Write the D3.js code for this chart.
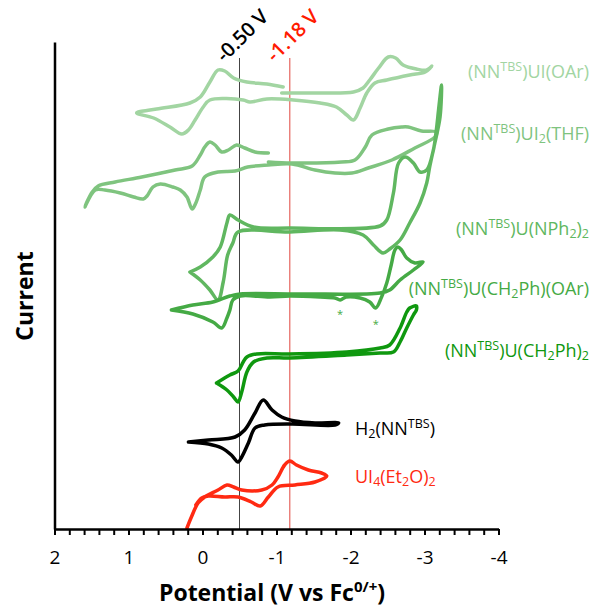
<!DOCTYPE html>
<html>
<head>
<meta charset="utf-8">
<script src="https://cdn.jsdelivr.net/npm/d3@7/dist/d3.min.js"></script>
<style>
  body { margin: 0; background: #fff; }
  text { font-family: "Open Sans", Lato, sans-serif; }
</style>
</head>
<body>
<div id="chart"></div>
<script>
// cyclic voltammograms, [potential (V vs Fc), current (a.u., stacked offset)]
var uiOAr = [[-1.07,43.6],[-1.54,43.6],[-2.04,43.7],[-2.17,44.1],[-2.26,44.9],[-2.38,46.1],[-2.51,47.2],[-2.61,47.1],
  [-2.71,46.4],[-2.89,46.0],[-3.03,45.9],[-3.10,46.3],[-3.01,45.7],[-2.80,45.4],[-2.49,44.9],[-2.33,44.6],[-2.22,43.6],
  [-2.13,42.1],[-2.04,40.9],[-1.95,41.4],[-1.81,42.2],[-1.59,42.6],[-1.23,42.9],[-0.87,43.0],[-0.64,42.7],[-0.55,42.9],
  [-0.10,42.9],[-0.01,42.2],[0.10,40.9],[0.19,39.9],[0.28,39.5],[0.44,40.2],[0.66,41.1],[0.89,41.6],[0.62,42.0],
  [0.17,42.6],[0.03,43.2],[-0.10,44.7],[-0.21,45.9],[-0.30,45.8],[-0.42,45.1],[-0.60,44.7],[-0.87,44.5],[-1.09,44.2]];

var ui2THF = [[-0.89,36.7],[-1.21,36.6],[-1.88,36.7],[-2.06,36.9],[-2.20,38.2],[-2.29,39.4],[-2.51,40.0],[-2.69,40.2],
  [-2.78,40.2],[-2.96,39.8],[-3.16,39.7],[-3.14,39.2],[-2.87,38.1],[-2.56,36.9],[-2.24,36.1],[-2.02,35.6],[-1.79,35.6],
  [-1.52,35.9],[-1.21,36.5],[-0.89,36.4],[-0.61,36.2],[-0.44,35.8],[-0.21,35.7],[-0.03,35.2],[0.03,33.9],[0.09,32.6],
  [0.14,32.0],[0.21,33.2],[0.30,33.9],[0.40,34.2],[0.57,34.5],[0.67,34.2],[0.75,33.3],[0.80,33.0],[0.93,33.2],
  [1.11,33.6],[1.32,33.9],[1.45,33.9],[1.59,32.2],[1.49,33.7],[1.41,34.3],[1.18,34.7],[0.82,35.2],[0.37,35.9],
  [0.14,36.3],[0.03,37.4],[-0.03,38.2],[-0.10,38.7],[-0.17,38.4],[-0.26,37.7],[-0.35,37.9],[-0.46,38.4],[-0.57,38.1],
  [-0.71,37.7],[-0.89,37.6]];

var uNPh2 = [[0.17,25.7],[0.03,26.2],[-0.14,27.2],[-0.24,28.2],[-0.33,30.6],[-0.37,31.4],[-0.48,30.9],[-0.69,30.2],
  [-1.18,30.1],[-2.40,30.3],[-2.49,30.9],[-2.58,33.6],[-2.65,36.6],[-2.74,37.2],[-2.85,36.6],[-2.94,35.7],[-3.03,35.9],
  [-3.12,37.9],[-3.16,39.9],[-3.19,41.9],[-3.23,44.4],[-3.21,41.2],[-3.14,38.6],[-3.07,36.2],[-3.03,34.6],[-2.94,32.6],
  [-2.80,30.6],[-2.67,28.9],[-2.53,28.0],[-2.44,27.6],[-2.31,28.4],[-2.17,29.4],[-1.86,29.9],[-1.18,29.7],[-0.48,29.7],
  [-0.41,28.6],[-0.34,27.4],[-0.28,24.7],[-0.21,22.9],[-0.10,23.9],[0.03,24.9],[0.17,25.7]];

var uBnOAr = [[0.42,21.9],[0.13,21.5],[-0.14,20.7],[-0.26,20.1],[-0.33,21.1],[-0.37,21.9],[-0.41,22.9],[-0.51,23.3],
  [-0.91,23.2],[-1.18,23.3],[-1.59,23.2],[-1.79,23.1],[-1.86,22.9],[-1.94,23.2],[-2.13,23.1],[-2.26,22.7],[-2.34,22.1],
  [-2.42,23.2],[-2.49,24.6],[-2.55,26.4],[-2.60,27.9],[-2.64,28.2],[-2.69,27.9],[-2.76,27.1],[-2.87,26.6],[-2.98,26.7],
  [-2.85,25.9],[-2.67,24.9],[-2.53,23.9],[-2.40,23.6],[-1.32,23.5],[-0.51,23.5],[-0.37,23.3],[-0.14,22.7],[0.13,22.4],
  [0.42,21.9]];

var uBn2 = [[-0.19,14.6],[-0.37,15.4],[-0.48,15.8],[-0.55,16.7],[-0.60,17.2],[-0.73,17.5],[-1.18,17.5],[-1.95,17.7],
  [-2.40,18.1],[-2.53,18.4],[-2.67,20.1],[-2.76,21.7],[-2.80,22.1],[-2.89,22.3],[-2.89,21.9],[-2.85,21.4],[-2.76,20.1],
  [-2.67,18.7],[-2.58,17.7],[-2.40,17.6],[-1.95,17.4],[-1.18,17.1],[-0.87,17.1],[-0.69,16.7],[-0.60,15.7],[-0.53,13.7],
  [-0.48,12.7],[-0.42,13.2],[-0.33,13.9],[-0.19,14.6]];

var h2NN = [[0.19,8.7],[-0.08,8.9],[-0.44,9.2],[-0.57,9.9],[-0.71,11.6],[-0.82,12.9],[-0.94,11.9],[-1.07,11.2],
  [-1.25,10.8],[-1.52,10.6],[-1.84,10.6],[-1.79,10.4],[-1.21,10.5],[-0.84,10.4],[-0.71,10.1],[-0.62,8.6],[-0.53,7.2],
  [-0.48,6.7],[-0.39,7.4],[-0.26,8.1],[-0.08,8.5],[0.19,8.7]];

var ui4 = [[0.21,0.1],[0.15,1.2],[0.06,2.6],[-0.03,3.2],[-0.21,3.9],[-0.33,4.4],[-0.42,4.2],[-0.53,3.9],[-0.80,3.9],
  [-0.94,4.4],[-1.02,5.2],[-1.11,6.4],[-1.18,6.8],[-1.27,6.4],[-1.43,5.9],[-1.61,5.6],[-1.68,5.3],[-1.52,4.7],
  [-1.25,4.4],[-1.02,4.2],[-0.89,3.2],[-0.78,2.3],[-0.66,2.7],[-0.48,3.2],[-0.30,3.2],[-0.08,3.3],[0.01,3.1],[0.09,2.4]];

// label pieces: 0 normal, 1 superscript, -1 subscript
var labUIOAr = [["(NN",0],["TBS",1],[")UI(OAr)",0]];
var labUI2 = [["(NN",0],["TBS",1],[")UI",0],["2",-1],["(THF)",0]];
var labNPh2 = [["(NN",0],["TBS",1],[")U(NPh",0],["2",-1],[")",0],["2",-1]];
var labBnOAr = [["(NN",0],["TBS",1],[")U(CH",0],["2",-1],["Ph)(OAr)",0]];
var labBn2 = [["(NN",0],["TBS",1],[")U(CH",0],["2",-1],["Ph)",0],["2",-1]];
var labH2 = [["H",0],["2",-1],["(NN",0],["TBS",1],[")",0]];
var labUI4 = [["UI",0],["4",-1],["(Et",0],["2",-1],["O)",0],["2",-1]];

var majorTicks = [2, 1, 0, -1, -2, -3, -4];
var refPotentials = [-0.50, -1.18];
var refLabels = ["-0.50 V", "-1.18 V"];

var outerWidth = 596;
var outerHeight = 605;
var margin = { left: 54.5, top: 42, right: 97.5, bottom: 76 };
var innerWidth = outerWidth - margin.left - margin.right;
var innerHeight = outerHeight - margin.top - margin.bottom;

var svg = d3.select('#chart').append('svg')
    .attr('width', outerWidth)
    .attr('height', outerHeight)
    .style('display', 'block');

var g = svg.append('g')
    .attr('transform', 'translate(' + margin.left + ',' + margin.top + ')');

var xScale = d3.scaleLinear().domain([2, -4]).range([0, innerWidth]);
var yScale = d3.scaleLinear().domain([0, 48.7]).range([innerHeight, 0]);

// reference potentials
var refColors = ['#444', '#e0473f'];
var refTextColors = ['#000', '#ff1a00'];
refPotentials.forEach(function (v, k) {
    var x = xScale(v);
    g.append('line')
        .attr('x1', x).attr('x2', x)
        .attr('y1', 16).attr('y2', innerHeight)
        .attr('stroke', refColors[k])
        .attr('stroke-width', 1);
    g.append('text')
        .attr('transform', 'translate(' + (x - 15) + ',21) rotate(-45)')
        .attr('fill', refTextColors[k])
        .attr('font-size', 20)
        .attr('font-weight', 600)
        .text(refLabels[k]);
});

var series = [
    { data: uiOAr, color: '#a2d5a2', label: labUIOAr },
    { data: ui2THF, color: '#7fc47f', label: labUI2 },
    { data: uNPh2, color: '#60b760', label: labNPh2 },
    { data: uBnOAr, color: '#45aa45', label: labBnOAr },
    { data: uBn2, color: '#0f980f', label: labBn2 },
    { data: h2NN, color: '#000000', label: labH2 },
    { data: ui4, color: '#ff2a12', label: labUI4 }
];
var labelPos = [[589, 77.5, 'end'], [589, 140, 'end'], [589, 235, 'end'], [589, 295, 'end'],
    [589, 356.5, 'end'], [355, 435, 'start'], [355, 483, 'start']];

var line = d3.line()
    .x(function (d) { return xScale(d[0]); })
    .y(function (d) { return yScale(d[1]); })
    .curve(d3.curveCatmullRom.alpha(0.5));

series.forEach(function (s) {
    g.append('path')
        .attr('fill', 'none')
        .attr('stroke', s.color)
        .attr('stroke-width', 3.5)
        .attr('stroke-linejoin', 'round')
        .attr('stroke-linecap', 'round')
        .attr('d', line(s.data));
});

// asterisks under the (OAr) trace
[-1.86, -2.34].forEach(function (v, k) {
    g.append('text')
        .attr('x', xScale(v))
        .attr('y', yScale(k ? 21.0 : 22.0) + 9)
        .attr('text-anchor', 'middle')
        .attr('font-size', 11)
        .attr('fill', '#45aa45')
        .text('*');
});

series.forEach(function (s, k) {
    var p = labelPos[k];
    var t = svg.append('text')
        .attr('x', p[0]).attr('y', p[1])
        .attr('text-anchor', p[2])
        .attr('fill', s.color)
        .attr('font-size', 18);
    s.label.forEach(function (part) {
        var ts = t.append('tspan').text(part[0]);
        if (part[1] !== 0) {
            ts.attr('font-size', 12.5)
              .attr('baseline-shift', part[1] === 1 ? 7 : -3);
        }
    });
});

// axes
var xAxis = d3.axisBottom(xScale)
    .tickValues(d3.range(0, 31).map(function (k) { return +(2 - k * 0.2).toFixed(1); }))
    .tickSize(6)
    .tickSizeOuter(0)
    .tickPadding(16)
    .tickFormat(function (d) { return majorTicks.indexOf(d) >= 0 ? String(d) : ''; });

var xAxisG = g.append('g')
    .attr('transform', 'translate(0,' + innerHeight + ')')
    .call(xAxis);
xAxisG.select('.domain').attr('stroke-width', 2.5);
xAxisG.selectAll('.tick line').attr('stroke-width', 2);
xAxisG.selectAll('.tick text')
    .filter(function () { return this.textContent === ''; })
    .remove();
xAxisG.selectAll('.tick text')
    .attr('font-size', 19)
    .attr('font-family', '"Open Sans", sans-serif')
    .attr('fill', '#000');

var yAxisG = g.append('g')
    .call(d3.axisLeft(yScale).tickValues([]).tickSizeOuter(0));
yAxisG.select('.domain').attr('stroke-width', 2.5);

// axis titles
var xt = svg.append('text')
    .attr('x', 272).attr('y', 601)
    .attr('text-anchor', 'middle')
    .attr('font-size', 23)
    .attr('font-weight', 'bold');
xt.append('tspan').text('Potential (V vs Fc');
xt.append('tspan').attr('font-size', 15).attr('baseline-shift', 9).text('0/+');
xt.append('tspan').text(')');

svg.append('text')
    .attr('transform', 'translate(33,296) rotate(-90)')
    .attr('text-anchor', 'middle')
    .attr('font-size', 23)
    .attr('font-weight', 'bold')
    .text('Current');
</script>
</body>
</html>
